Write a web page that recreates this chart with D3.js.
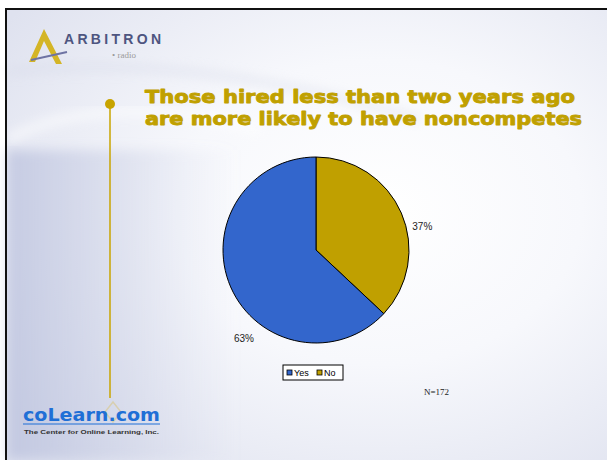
<!DOCTYPE html>
<html>
<head>
<meta charset="utf-8">
<script src="https://cdn.jsdelivr.net/npm/d3@7"></script>
<style>
  html, body { margin: 0; padding: 0; background: #fff; }
  svg { display: block; }
</style>
</head>
<body>
<svg id="chart" width="607" height="460"></svg>
<script>
// Share of respondents with a noncompete agreement
const categories = ["Yes", "No"];
const values = [63, 37];
const sliceColors = ["#3366cc", "#c0a000"];
const sampleNote = "N=172";
const titleLines = ["Those hired less than two years ago", "are more likely to have noncompetes"];

const svg = d3.select("#chart");
const W = 607, H = 460;

// ---- slide background ----
const defs = svg.append("defs");
const bg = defs.append("radialGradient").attr("id", "bgGrad")
  .attr("cx", "0.62").attr("cy", "0.45").attr("r", "0.75");
bg.append("stop").attr("offset", "0").attr("stop-color", "#ffffff");
bg.append("stop").attr("offset", "0.45").attr("stop-color", "#f7f8fc");
bg.append("stop").attr("offset", "1").attr("stop-color", "#dfe2ef");
const side = defs.append("linearGradient").attr("id", "sideGrad")
  .attr("x1", "0").attr("x2", "1").attr("y1", "0").attr("y2", "0");
side.append("stop").attr("offset", "0").attr("stop-color", "#b0b8d8").attr("stop-opacity", 0.6);
side.append("stop").attr("offset", "1").attr("stop-color", "#b9c0dc").attr("stop-opacity", 0);
const blur = defs.append("filter").attr("id", "soft").attr("x", "-20%").attr("y", "-20%")
  .attr("width", "140%").attr("height", "140%");
blur.append("feGaussianBlur").attr("stdDeviation", 6);

svg.append("rect").attr("width", W).attr("height", H).attr("fill", "#ffffff");
svg.append("rect").attr("x", 7).attr("y", 9).attr("width", W - 7).attr("height", H - 9)
  .attr("fill", "url(#bgGrad)");
svg.append("rect").attr("x", 7).attr("y", 150).attr("width", 230).attr("height", H - 150)
  .attr("fill", "url(#sideGrad)").attr("filter", "url(#soft)");
// faint sweeping arcs in the backdrop
svg.append("path").attr("d", "M7,72 C120,60 260,70 420,120")
  .attr("fill", "none").attr("stroke", "#d6dae8").attr("stroke-width", 6)
  .attr("opacity", 0.6).attr("filter", "url(#soft)");
svg.append("path").attr("d", "M7,140 C60,110 150,100 260,130")
  .attr("fill", "none").attr("stroke", "#ffffff").attr("stroke-width", 8)
  .attr("opacity", 0.7).attr("filter", "url(#soft)");

// frame edges
svg.append("rect").attr("x", 5).attr("y", 8).attr("width", 2).attr("height", H - 8).attr("fill", "#111");
svg.append("rect").attr("x", 5).attr("y", 8).attr("width", W - 5).attr("height", 2).attr("fill", "#111");

// ---- ARBITRON logo ----
const logo = svg.append("g");
logo.append("path").attr("d", "M29,62 L44,29 L62,64 L56,64 L44,41 L35,62 Z").attr("fill", "#d4b526");
logo.append("path").attr("d", "M31,60 L67,52").attr("stroke", "#6e73a3").attr("stroke-width", 2);
logo.append("text").attr("x", 64).attr("y", 44)
  .attr("font-family", "Liberation Sans, Arial, sans-serif").attr("font-weight", "bold")
  .attr("font-size", 14).attr("fill", "#4e5580")
  .attr("textLength", 97).attr("lengthAdjust", "spacing").text("ARBITRON");
logo.append("text").attr("x", 112).attr("y", 58)
  .attr("font-family", "Liberation Serif, serif").attr("font-size", 9)
  .attr("fill", "#9a9a9a").text("• radio");

// ---- title ----
const title = svg.append("g");
titleLines.forEach((t, i) => {
  title.append("text").attr("x", 145).attr("y", 103 + i * 21.5)
    .attr("font-family", "DejaVu Sans, sans-serif").attr("font-weight", "bold")
    .attr("font-size", 18).attr("fill", "#c0a000")
    .attr("stroke", "#c0a000").attr("stroke-width", 0.9).attr("stroke-linejoin", "round")
    .attr("textLength", i === 0 ? 430 : 437).attr("lengthAdjust", "spacingAndGlyphs")
    .text(t);
});

// vertical accent line with bullet
svg.append("line").attr("x1", 110).attr("x2", 110).attr("y1", 104).attr("y2", 398)
  .attr("stroke", "#c8a400").attr("stroke-width", 1.5);
svg.append("circle").attr("cx", 110).attr("cy", 104).attr("r", 5).attr("fill", "#c8a400");

// ---- pie ----
const cx = 316, cy = 250, R = 93;
const data = categories.map((c, i) => ({ c, v: values[i], col: sliceColors[i] }));
// "No" is drawn clockwise from 12 o'clock, "Yes" fills the remainder
const pieCW = d3.pie().sort(null).value(d => d.v);
const arcs = pieCW([data[1], data[0]]);
const arc = d3.arc().innerRadius(0).outerRadius(R);
const g = svg.append("g").attr("transform", `translate(${cx},${cy})`);
g.selectAll("path").data(arcs).join("path")
  .attr("d", arc).attr("fill", d => d.data.col)
  .attr("stroke", "#000").attr("stroke-width", 1);

// percentage labels outside the slices
const labelArc = d3.arc().innerRadius(R + 25).outerRadius(R + 25);
g.selectAll("text").data(arcs).join("text")
  .attr("x", d => d.data.c === "No" ? labelArc.centroid(d)[0] - 2 : -72)
  .attr("y", d => d.data.c === "No" ? -20 : 92)
  .attr("text-anchor", "middle")
  .attr("font-family", "Liberation Sans, Arial, sans-serif").attr("font-size", 10)
  .attr("fill", "#222")
  .text(d => d.data.v + "%");

// ---- legend ----
const leg = svg.append("g").attr("transform", "translate(283,365)");
leg.append("rect").attr("width", 60).attr("height", 15)
  .attr("fill", "#fff").attr("stroke", "#000").attr("stroke-width", 1);
const items = [{ c: categories[0], col: sliceColors[0], x: 4 }, { c: categories[1], col: sliceColors[1], x: 34 }];
items.forEach(it => {
  leg.append("rect").attr("x", it.x).attr("y", 5).attr("width", 5).attr("height", 5)
    .attr("fill", it.col).attr("stroke", "#000").attr("stroke-width", 0.8);
  leg.append("text").attr("x", it.x + 7).attr("y", 11)
    .attr("font-family", "Liberation Sans, Arial, sans-serif").attr("font-size", 9)
    .attr("fill", "#000").text(it.c);
});

svg.append("text").attr("x", 424).attr("y", 395)
  .attr("font-family", "Liberation Serif, serif").attr("font-size", 9)
  .attr("fill", "#222").text(sampleNote);

// ---- coLearn logo ----
const cl = svg.append("g");
cl.append("path").attr("d", "M113,402 L121,412 L113,422 L105,412 Z")
  .attr("fill", "none").attr("stroke", "#d8cfb0").attr("stroke-width", 1.5);
cl.append("text").attr("x", 23).attr("y", 421)
  .attr("font-family", "DejaVu Sans, sans-serif").attr("font-weight", "bold")
  .attr("font-size", 17).attr("fill", "#1f6fd6")
  .attr("textLength", 137).attr("lengthAdjust", "spacingAndGlyphs").text("coLearn.com");
cl.append("line").attr("x1", 23).attr("x2", 160).attr("y1", 424).attr("y2", 424)
  .attr("stroke", "#1f6fd6").attr("stroke-width", 1.2);
cl.append("text").attr("x", 24).attr("y", 434)
  .attr("font-family", "Liberation Sans, Arial, sans-serif").attr("font-weight", "bold")
  .attr("font-size", 6).attr("fill", "#333")
  .attr("textLength", 135).attr("lengthAdjust", "spacingAndGlyphs")
  .text("The Center for Online Learning, Inc.");
</script>
</body>
</html>
